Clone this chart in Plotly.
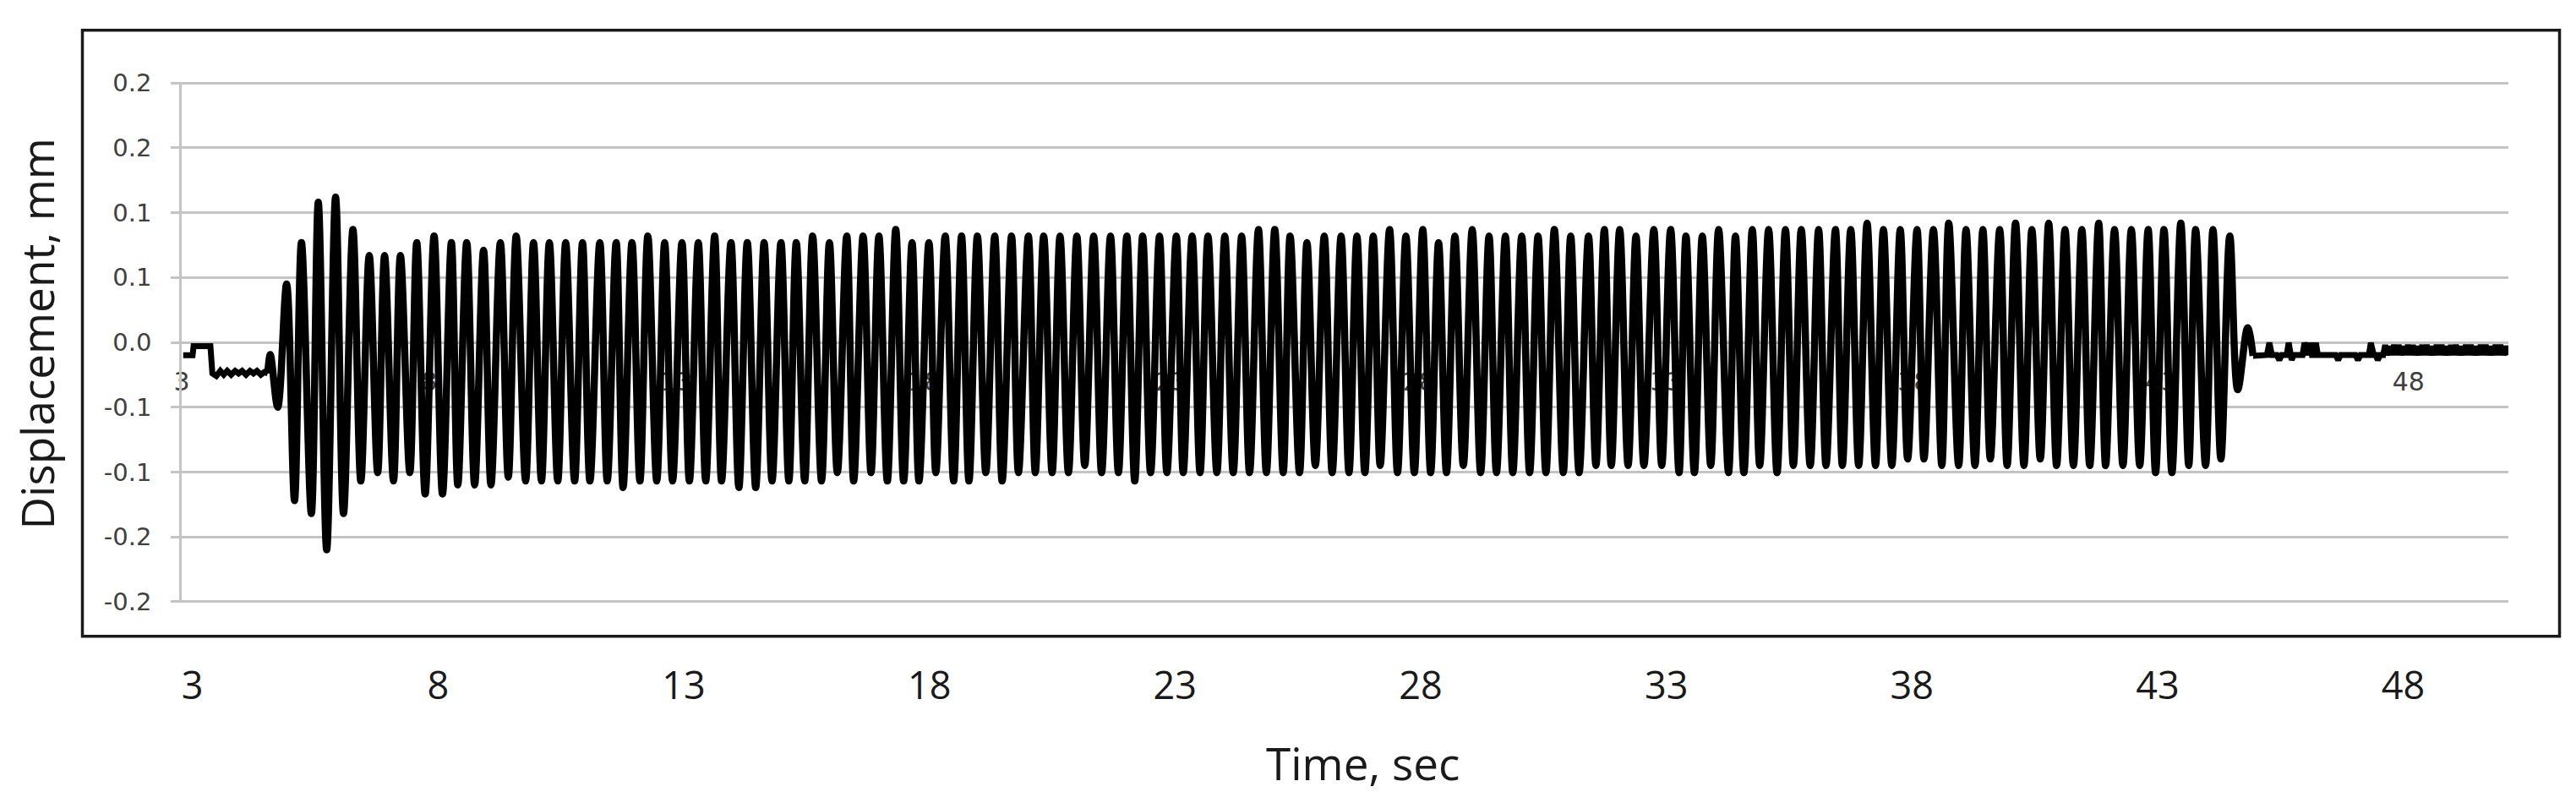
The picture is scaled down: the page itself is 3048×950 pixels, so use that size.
import plotly.graph_objects as go

# ---------------- data ----------------
pre_time = [3.03, 3.22, 3.24, 3.58, 3.62, 3.70, 3.78, 3.85, 3.92, 4.00, 4.08, 4.15,
            4.22, 4.30, 4.38, 4.45, 4.52, 4.60, 4.67, 4.74]
pre_disp = [-0.010, -0.010, -0.003, -0.003, -0.024, -0.026, -0.022, -0.025, -0.022, -0.025,
            -0.022, -0.024, -0.022, -0.025, -0.022, -0.024, -0.022, -0.025, -0.023, -0.024]

osc_time = [4.74, 4.79, 4.94, 5.12, 5.28, 5.42, 5.62, 5.76, 5.93, 6.11, 6.27, 6.46, 6.62,
            6.79, 6.96, 7.10, 7.28, 7.42, 7.61, 7.75, 7.92, 8.10, 8.27, 8.45, 8.58, 8.76,
            8.92, 9.10, 9.25, 9.44, 9.60, 9.76, 9.95, 10.11, 10.27, 10.43, 10.60, 10.76,
            10.94, 11.10, 11.25, 11.45, 11.60, 11.78, 11.92, 12.10, 12.26, 12.42, 12.60,
            12.76, 12.92, 13.11, 13.26, 13.44, 13.59, 13.77, 13.91, 14.10, 14.26, 14.43,
            14.60, 14.77, 14.93, 15.11, 15.27, 15.42, 15.59, 15.75, 15.93, 16.09, 16.25,
            16.44, 16.58, 16.77, 16.93, 17.09, 17.26, 17.43, 17.59, 17.76, 17.90, 18.10,
            18.24, 18.43, 18.60, 18.76, 18.91, 19.08, 19.25, 19.43, 19.58, 19.77, 19.91,
            20.11, 20.25, 20.42, 20.59, 20.75, 20.92, 21.09, 21.25, 21.43, 21.59, 21.77,
            21.93, 22.10, 22.26, 22.42, 22.58, 22.76, 22.91, 23.10, 23.24, 23.42, 23.58,
            23.74, 23.92, 24.08, 24.25, 24.42, 24.58, 24.76, 24.92, 25.09, 25.26, 25.40,
            25.59, 25.74, 25.91, 26.09, 26.25, 26.43, 26.59, 26.75, 26.91, 27.08, 27.22,
            27.41, 27.57, 27.74, 27.91, 28.08, 28.24, 28.40, 28.56, 28.73, 28.90, 29.08,
            29.25, 29.42, 29.57, 29.75, 29.90, 30.08, 30.24, 30.41, 30.57, 30.74, 30.92,
            31.07, 31.24, 31.43, 31.58, 31.75, 31.89, 32.06, 32.23, 32.39, 32.55, 32.75,
            32.91, 33.09, 33.26, 33.40, 33.57, 33.73, 33.90, 34.06, 34.26, 34.40, 34.57,
            34.74, 34.89, 35.07, 35.24, 35.41, 35.57, 35.73, 35.91, 36.08, 36.23, 36.42,
            36.56, 36.73, 36.89, 37.06, 37.23, 37.39, 37.56, 37.73, 37.88, 38.07, 38.21,
            38.40, 38.57, 38.71, 38.91, 39.06, 39.24, 39.40, 39.55, 39.74, 39.89, 40.06,
            40.23, 40.39, 40.56, 40.73, 40.89, 41.06, 41.23, 41.40, 41.56, 41.74, 41.88,
            42.06, 42.23, 42.40, 42.57, 42.74, 42.89, 43.06, 43.22, 43.40, 43.56, 43.70,
            43.90, 44.05, 44.21, 44.39, 44.55, 44.75, 44.86]
osc_disp = [-0.024, -0.0095, -0.050, 0.045, -0.122, 0.077, -0.132, 0.108, -0.160, 0.112,
            -0.132, 0.087, -0.107, 0.067, -0.1005, 0.067, -0.107, 0.067, -0.1005, 0.077,
            -0.117, 0.082, -0.117, 0.077, -0.110, 0.077, -0.110, 0.071, -0.110, 0.077,
            -0.104, 0.082, -0.107, 0.077, -0.107, 0.077, -0.107, 0.077, -0.107, 0.077,
            -0.107, 0.077, -0.107, 0.077, -0.112, 0.077, -0.107, 0.082, -0.107, 0.077,
            -0.107, 0.077, -0.107, 0.077, -0.107, 0.082, -0.107, 0.077, -0.112, 0.077,
            -0.112, 0.077, -0.107, 0.077, -0.107, 0.077, -0.107, 0.082, -0.107, 0.077,
            -0.1005, 0.082, -0.107, 0.082, -0.1005, 0.082, -0.107, 0.087, -0.107, 0.077,
            -0.107, 0.077, -0.1005, 0.082, -0.107, 0.082, -0.107, 0.082, -0.1005, 0.082,
            -0.107, 0.082, -0.1005, 0.082, -0.1005, 0.082, -0.1005, 0.082, -0.1005, 0.082,
            -0.095, 0.082, -0.1005, 0.082, -0.1005, 0.082, -0.107, 0.082, -0.1005, 0.082,
            -0.1005, 0.082, -0.1005, 0.082, -0.1005, 0.082, -0.1005, 0.082, -0.1005, 0.082,
            -0.1005, 0.087, -0.1005, 0.087, -0.1005, 0.082, -0.1005, 0.077, -0.095, 0.082,
            -0.1005, 0.082, -0.1005, 0.082, -0.1005, 0.082, -0.095, 0.087, -0.1005, 0.082,
            -0.1005, 0.087, -0.1005, 0.077, -0.1005, 0.082, -0.095, 0.087, -0.1005, 0.082,
            -0.1005, 0.082, -0.1005, 0.082, -0.1005, 0.082, -0.1005, 0.087, -0.1005, 0.082,
            -0.1005, 0.082, -0.095, 0.087, -0.095, 0.087, -0.095, 0.082, -0.095, 0.087,
            -0.095, 0.087, -0.1005, 0.082, -0.1005, 0.082, -0.095, 0.087, -0.1005, 0.082,
            -0.1005, 0.087, -0.095, 0.087, -0.1005, 0.087, -0.095, 0.087, -0.095, 0.087,
            -0.095, 0.087, -0.095, 0.087, -0.095, 0.092, -0.095, 0.087, -0.095, 0.087,
            -0.090, 0.087, -0.090, 0.087, -0.095, 0.092, -0.095, 0.087, -0.095, 0.087,
            -0.090, 0.087, -0.095, 0.092, -0.095, 0.087, -0.090, 0.092, -0.095, 0.087,
            -0.095, 0.087, -0.095, 0.092, -0.095, 0.087, -0.095, 0.087, -0.095, 0.087,
            -0.1005, 0.087, -0.1005, 0.092, -0.095, 0.087, -0.095, 0.087, -0.090, 0.082,
            -0.0365, 0.0113, -0.0104]

post_time = [44.86, 45.14, 45.19, 45.24, 45.34, 45.39, 45.44, 45.54, 45.58, 45.61, 45.64,
             45.68, 45.86, 45.90, 45.95, 45.98, 46.01, 46.05, 46.09, 46.13, 46.17, 46.53,
             46.58, 46.63, 46.93, 46.98, 47.03, 47.20, 47.24, 47.30, 47.34, 47.38, 47.43,
             47.49, 47.53, 47.57, 47.62, 47.66, 47.71, 47.76, 47.80, 47.85, 47.90, 47.94,
             47.99, 48.04, 48.09, 48.13, 48.18, 48.23, 48.28, 48.32, 48.37, 48.42, 48.47,
             48.52, 48.57, 48.62, 48.67, 48.72, 48.77, 48.82, 48.86, 48.91, 48.96, 49.01,
             49.06, 49.11, 49.16, 49.21, 49.26, 49.31, 49.36, 49.41, 49.46, 49.51, 49.56,
             49.61, 49.66, 49.71, 49.76, 49.81, 49.86, 49.91, 49.96, 50.02]
post_disp = [-0.0104, -0.0098, -0.0003, -0.0098, -0.0098, -0.0137, -0.0098, -0.0098, -0.0003,
             -0.0098, -0.0137, -0.0098, -0.0098, -0.0003, -0.0098, -0.0098, -0.0003, -0.0098,
             -0.0098, -0.0003, -0.0098, -0.0098, -0.0137, -0.0098, -0.0098, -0.0137, -0.0098,
             -0.0098, -0.0003, -0.0098, -0.0098, -0.0137, -0.0098,
             -0.0098, -0.002, -0.0098, -0.003, -0.0098, -0.002, -0.0098, -0.002, -0.0098,
             -0.003, -0.0098, -0.002, -0.0098, -0.002, -0.0098, -0.003, -0.0098, -0.002,
             -0.0098, -0.002, -0.0098, -0.003, -0.0098, -0.002, -0.0098, -0.002, -0.0098,
             -0.003, -0.0098, -0.002, -0.0098, -0.002, -0.0098, -0.003, -0.0098, -0.002,
             -0.0098, -0.002, -0.0098, -0.003, -0.0098, -0.002, -0.0098, -0.002, -0.0098,
             -0.003, -0.0098, -0.002, -0.0098, -0.002, -0.0098, -0.003, -0.0098]

x_tick_vals = [3, 8, 13, 18, 23, 28, 33, 38, 43, 48]
x_tick_text = ["3", "8", "13", "18", "23", "28", "33", "38", "43", "48"]
y_tick_vals = [0.20, 0.15, 0.10, 0.05, 0.0, -0.05, -0.10, -0.15, -0.20]
y_tick_text = ["0.2", "0.2", "0.1", "0.1", "0.0", "-0.1", "-0.1", "-0.2", "-0.2"]

x_title = "Time, sec"
y_title = "Displacement, mm"

# ---------------- figure ----------------
W = 8.5
fig = go.Figure()
fig.add_trace(go.Scatter(x=pre_time, y=pre_disp, mode="lines",
                         line=dict(color="#000000", width=W - 1.5), showlegend=False))
fig.add_trace(go.Scatter(x=osc_time, y=osc_disp, mode="lines",
                         line=dict(color="#000000", width=W, shape="spline", smoothing=1),
                         showlegend=False))
fig.add_trace(go.Scatter(x=post_time, y=post_disp, mode="lines",
                         line=dict(color="#000000", width=W - 1.5), showlegend=False))

GRID = "#c4c4c4"
fig.update_layout(
    width=3048, height=950, autosize=False,
    margin=dict(l=215, r=80, t=97, b=237, pad=0),
    paper_bgcolor="white", plot_bgcolor="white",
    showlegend=False,
    xaxis=dict(
        range=[3, 50.02], domain=[0, 1], anchor="free", position=0.5,
        showgrid=False, zeroline=False, showline=False,
        tickmode="array", tickvals=x_tick_vals, ticktext=x_tick_text,
        ticks="", ticklabelstandoff=26,
        tickfont=dict(family="DejaVu Sans", size=30, color="#404040"),
        layer="below traces",
    ),
    xaxis2=dict(
        range=[2.7815, 50.14], domain=[0, 1], overlaying="x", anchor="y", side="bottom",
        showgrid=False, zeroline=False, showline=False,
        tickmode="array", tickvals=x_tick_vals, ticktext=x_tick_text,
        ticks="", ticklabelstandoff=68,
        tickfont=dict(family="Open Sans", size=45, color="#1a1a1a"),
    ),
    yaxis=dict(
        range=[-0.2008, 0.2008], domain=[0, 1],
        showgrid=True, gridcolor=GRID, gridwidth=2.5,
        zeroline=False, showline=True, linecolor=GRID, linewidth=2.5,
        tickmode="array", tickvals=y_tick_vals, ticktext=y_tick_text,
        ticks="outside", ticklen=10, tickwidth=2.5, tickcolor=GRID,
        ticklabelstandoff=17,
        tickfont=dict(family="DejaVu Sans", size=29, color="#404040"),
    ),
    shapes=[dict(type="rect", xref="paper", yref="paper",
                 x0=-0.04268, x1=1.02198, y0=-0.06466, y1=1.09935,
                 line=dict(color="#1a1a1a", width=3.5), fillcolor="rgba(0,0,0,0)",
                 layer="above")],
    annotations=[
        dict(text=y_title, xref="paper", yref="paper", x=-0.0623, y=0.5163,
             textangle=-90, showarrow=False, xanchor="center", yanchor="middle",
             font=dict(family="Open Sans", size=53, color="#1a1a1a")),
        dict(text=x_title, xref="paper", yref="paper", x=0.5078, y=-0.3078,
             showarrow=False, xanchor="center", yanchor="middle",
             font=dict(family="Open Sans", size=53, color="#1a1a1a")),
    ],
)
# invisible trace so the outer tick-label axis renders
fig.add_trace(go.Scatter(x=[x_tick_vals[0]], y=[y_tick_vals[0]], xaxis="x2", mode="markers",
                         marker=dict(opacity=0), hoverinfo="skip", showlegend=False))

fig.write_html("out.html", config={"displayModeBar": False},
               post_script="document.body.style.margin='0px';document.body.style.overflow='hidden';")
